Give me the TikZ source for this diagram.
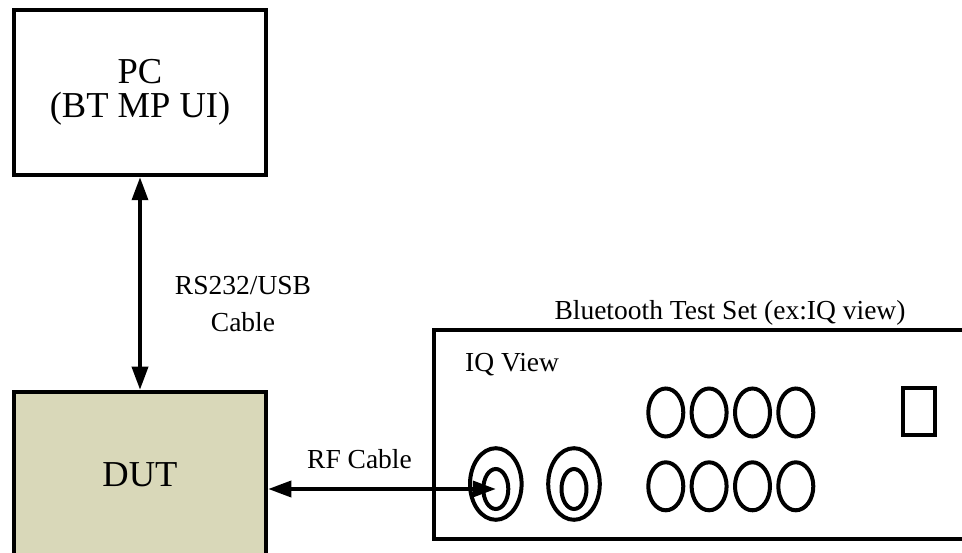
\documentclass[tikz,border=0pt]{standalone}
\usepackage{fontspec}
\setmainfont{Liberation Serif}
\usetikzlibrary{arrows.meta,positioning,shapes.geometric}

\definecolor{dutfill}{RGB}{217,216,185}

\begin{document}
\begin{tikzpicture}[x=1pt,y=-1pt,
  box/.style={draw,line width=4.5pt,minimum width=252pt,minimum height=165pt,inner sep=0pt},
  bigtext/.style={font=\fontsize{36.5}{34}\selectfont,align=center},
  smalltext/.style={font=\fontsize{27.5}{37}\selectfont,align=center,inner sep=0pt},
  cable/.style={line width=3.5pt,{Triangle[length=23pt,width=16pt]}-{Triangle[length=23pt,width=16pt]}},
  port/.style={draw,ellipse,line width=4pt,inner sep=0pt},
  knob/.style={line width=4pt}]
  \useasboundingbox (0,0) rectangle (962,553);
  \clip (0,0) rectangle (962,553); % 右端と下端は画面の外まで続く

  \node[box,bigtext] (pc) at (140,92.5) {PC\\(BT MP UI)};
  \node[box,bigtext,fill=dutfill] (dut) at (140,474.5) {DUT};
  \node[draw,line width=4.5pt,minimum width=560pt,minimum height=209pt] (tester) at (714,434.5) {}; % 測定器の筐体
  \node[smalltext] (tstitle) at (730,313) {Bluetooth Test Set (ex:IQ view)};
  \node[smalltext,anchor=base west] (iqname) at (465,372) {IQ View};

  % RFコネクタ（二重の楕円）
  \node[port,minimum width=51.6pt,minimum height=71.6pt] (port1) at (495.8,484) {};
  \node[port,minimum width=25pt,minimum height=40pt] (port1in) at (495.8,489) {};
  \node[port,minimum width=51.6pt,minimum height=71.6pt] (port2) at (574,484) {};
  \node[port,minimum width=25pt,minimum height=40pt] (port2in) at (574,489) {};

  % つまみ 2段×4個
  \foreach \kx in {665.8,709.1,752.5,795.8}{
    \draw[knob] (\kx,412.5) ellipse [x radius=17.5pt,y radius=24pt];
    \draw[knob] (\kx,486.3) ellipse [x radius=17.5pt,y radius=24pt];
  }
  \draw[knob] (903.3,388.3) rectangle (935,435);

  \draw[cable] (pc.south) -- (dut.north);
  \node[smalltext] (usblabel) at (243,304) {RS232/USB\\Cable};
  \draw[cable] (port1in.center -| dut.east) -- (port1in.center);
  \node[smalltext] (rflabel) at (359.5,459) {RF Cable};
\end{tikzpicture}
\end{document}
